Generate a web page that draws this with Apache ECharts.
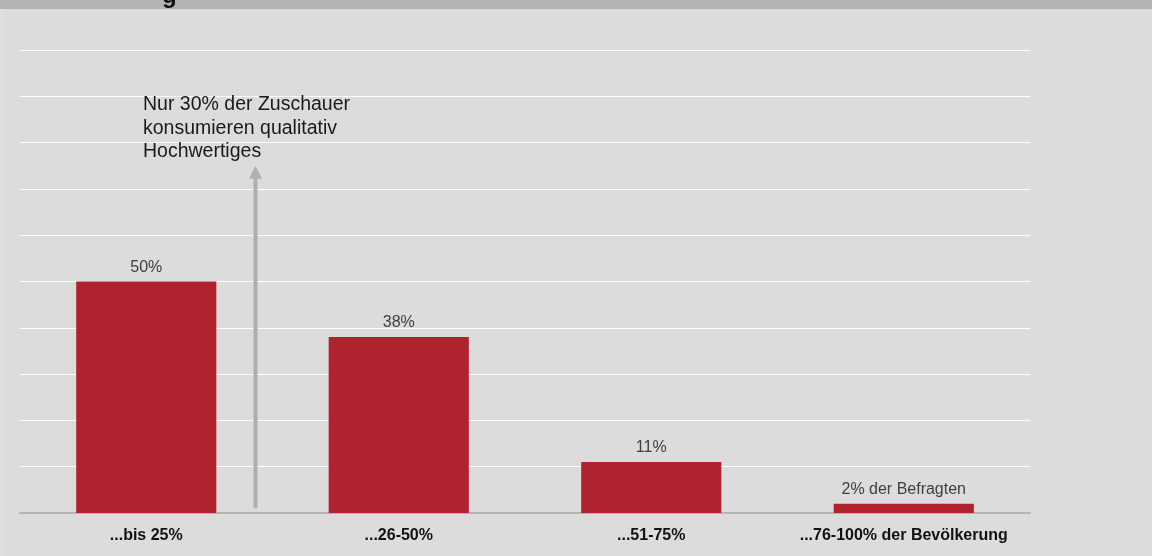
<!DOCTYPE html>
<html>
<head>
<meta charset="utf-8">
<script src="https://cdn.jsdelivr.net/npm/echarts@6/dist/echarts.min.js"></script>
<style>
  html, body { margin: 0; padding: 0; background: #e0e0e0; overflow: hidden; }
  #chart { width: 1152px; height: 556px; }
</style>
</head>
<body>
<div id="chart"></div>
<script>
// Anteil hochwertiger Sendungen am TV-Konsum, nach Bevölkerungsgruppen
const categories = ['...bis 25%', '...26-50%', '...51-75%', '...76-100% der Bevölkerung'];
const shares = [50, 38, 11, 2];
const valueLabels = ['50%', '38%', '11%', '2% der Befragten'];
const noteText = 'Nur 30% der Zuschauer\nkonsumieren qualitativ\nHochwertiges';
// Pfeil: von knapp über der Achse bis zu dieser Höhe (in Prozentpunkten)
const arrowFrom = 1;
const arrowTo = 75;

const chart = echarts.init(document.getElementById('chart'), null, { renderer: 'canvas' });

const font = '"Liberation Sans", Arial, sans-serif';

chart.setOption({
  backgroundColor: '#dcdcdc',
  animation: false,
  grid: { left: 20, right: 122, top: 50, bottom: 43, containLabel: false },
  xAxis: {
    type: 'category',
    data: categories,
    axisLine: { lineStyle: { color: '#b4b4b4', width: 2 } },
    axisTick: { show: false },
    axisLabel: {
      interval: 0,
      hideOverlap: false,
      color: '#111111',
      fontFamily: font,
      fontSize: 16,
      fontWeight: 'bold',
      margin: 15
    }
  },
  yAxis: {
    type: 'value',
    min: 0,
    max: 100,
    interval: 10,
    axisLine: { show: false },
    axisTick: { show: false },
    axisLabel: { show: false },
    splitLine: { lineStyle: { color: '#ffffff', width: 1 } }
  },
  series: [{
    type: 'bar',
    data: shares,
    barWidth: '55.5%',
    itemStyle: { color: '#b0232e' },
    label: {
      show: true,
      position: 'top',
      distance: 6,
      color: '#404040',
      fontFamily: font,
      fontSize: 16,
      formatter: p => valueLabels[p.dataIndex]
    }
  }]
});

// Pfeil und Hinweistext, über die Achsenskala positioniert
const arrowX = 255.5;
const yBottom = chart.convertToPixel({ yAxisIndex: 0 }, arrowFrom);
const yTop = chart.convertToPixel({ yAxisIndex: 0 }, arrowTo);

chart.setOption({
  graphic: [
    // Kopfleiste mit abgeschnittenem Titel
    { type: 'rect', shape: { x: 0, y: 0, width: 1152, height: 9 }, style: { fill: '#b3b3b3' }, z: 10 },
    { type: 'text', x: 162, y: -16, style: { text: 'g', font: 'bold 24px ' + font, fill: '#111111' }, z: 11 },
    // linker Rand
    { type: 'rect', shape: { x: 0, y: 9, width: 4, height: 547 }, style: { fill: '#e0e0e0' }, z: 10 },
    // Pfeilschaft
    {
      type: 'rect',
      shape: { x: arrowX - 2, y: yTop + 12, width: 4, height: yBottom - yTop - 12 },
      style: { fill: '#b0b0b0' },
      z: 5
    },
    // Pfeilspitze
    {
      type: 'polygon',
      shape: { points: [[arrowX, yTop], [arrowX - 6.5, yTop + 13], [arrowX + 6.5, yTop + 13]] },
      style: { fill: '#b0b0b0' },
      z: 5
    },
    {
      type: 'text',
      x: 143,
      y: 93,
      style: {
        text: noteText,
        font: '19.5px ' + font,
        fill: '#1a1a1a',
        lineHeight: 23.5
      },
      z: 6
    }
  ]
});
</script>
</body>
</html>
